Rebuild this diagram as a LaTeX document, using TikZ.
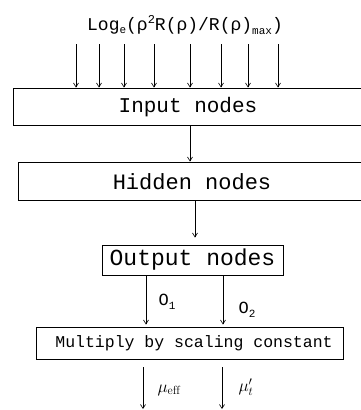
\documentclass[tikz,border=0pt]{standalone}
\usepackage{fontspec}
\setmonofont{Liberation Mono}
\usetikzlibrary{arrows.meta}
\begin{document}
\begin{tikzpicture}[x=1pt,y=-1pt,
  box/.style={draw, line width=1pt, inner sep=0pt},
  lbl/.style={inner sep=0pt},
  arr/.style={line width=0.6pt, -{Straight Barb[length=4pt,width=5pt]}}]
\useasboundingbox (0,0) rectangle (361,410);
\clip (0,0) rectangle (361,410);
% formula
\node[lbl, font=\ttfamily\fontsize{18}{18}\selectfont] (formula) at (185,25)
  {Log\raisebox{-0.35ex}{\fontsize{11}{11}\selectfont e}(ρ\raisebox{0.75ex}{\fontsize{12}{12}\selectfont 2}R(ρ)/R(ρ)\raisebox{-0.45ex}{\fontsize{11}{11}\selectfont max})};
% boxes
\node[box, minimum width=357pt, minimum height=37pt] (inbox) at (191.5,106.5) {};
\node[lbl, font=\ttfamily\fontsize{21}{21}\selectfont] (intext) at (188,107) {Input nodes};
\node[box, minimum width=352pt, minimum height=38pt] (hidbox) at (194,181) {};
\node[lbl, font=\ttfamily\fontsize{22}{22}\selectfont] (hidtext) at (192,182) {Hidden nodes};
\node[box, minimum width=181pt, minimum height=30pt, font=\ttfamily\fontsize{23}{23}\selectfont] (outbox) at (192.5,260) {Output nodes};
\node[box, minimum width=307pt, minimum height=32pt] (mulbox) at (189.5,343) {};
\node[lbl, font=\ttfamily\fontsize{16.5}{16.5}\selectfont] (multext) at (194,343) {Multiply by scaling constant};
% input arrows
\foreach \x [count=\i] in {76,99,124,154,190,221,248,278} {
  \coordinate (in\i) at (\x,44);
  \draw[arr] (in\i) -- (in\i |- inbox.north);
}
% input -> hidden
\coordinate (c1) at (190,0);
\draw[arr] (c1 |- inbox.south) -- (c1 |- hidbox.north);
% hidden -> output
\coordinate (c2) at (195,0);
\draw[arr, shorten >=7pt] (c2 |- hidbox.south) -- (c2 |- outbox.north);
% output -> multiply
\coordinate (o1) at (146,0);
\coordinate (o2) at (223,0);
\draw[arr, shorten >=2pt] (o1 |- outbox.south) -- (o1 |- mulbox.north);
\draw[arr, shorten >=2pt] (o2 |- outbox.south) -- (o2 |- mulbox.north);
\node[lbl, font=\ttfamily\fontsize{17}{17}\selectfont] (o1lbl) at (167,302) {O\raisebox{-0.5ex}{\fontsize{11}{11}\selectfont 1}};
\node[lbl, font=\ttfamily\fontsize{17}{17}\selectfont] (o2lbl) at (247,310) {O\raisebox{-0.5ex}{\fontsize{11}{11}\selectfont 2}};
% outputs
\coordinate (m1s) at (143,367);
\coordinate (m1e) at (143,409);
\coordinate (m2s) at (222,367);
\coordinate (m2e) at (222,409);
\draw[arr] (m1s) -- (m1e);
\draw[arr] (m2s) -- (m2e);
\node[lbl, font=\fontsize{17}{17}\selectfont] (mulbl) at (169,390) {$\mu_{\mathrm{eff}}$};
\node[lbl, font=\fontsize{17}{17}\selectfont] (mtlbl) at (246,387) {$\mu'_{t}$};
\end{tikzpicture}
\end{document}
